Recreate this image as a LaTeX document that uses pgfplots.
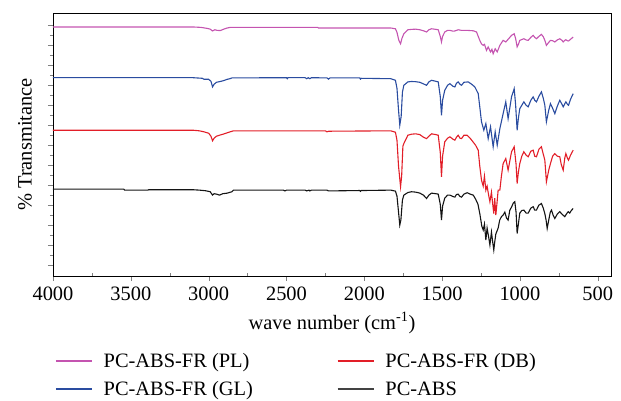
\documentclass[border=0pt]{standalone}
\usepackage{pgfplots}
\pgfplotsset{compat=1.18}
\usepackage{fontspec}
\setmainfont{Liberation Serif}

\definecolor{cpl}{RGB}{196,84,176}
\definecolor{cgl}{RGB}{42,76,160}
\definecolor{cdb}{RGB}{226,30,40}
\definecolor{cabs}{RGB}{20,20,20}

\begin{document}
\begin{tikzpicture}[font=\fontsize{20.5}{24}\selectfont]
\begin{axis}[
    at={(0,0)}, anchor=south west,
    scale only axis,
    width=558bp, height=263bp,
    x dir=reverse,
    xmin=415, xmax=4000,
    ymin=0, ymax=13.17,
    xtick={500,1000,...,4000},
    xticklabels={500,1000,1500,2000,2500,3000,3500,4000},
    xticklabel style={yshift=-2bp},
    minor x tick num=1,
    ytick={0.55,1.55,...,12.55},
    yticklabels={},
    minor y tick num=1,
    xtick pos=bottom, ytick pos=left,
    tick align=outside,
    major tick length=5bp,
    minor tick length=3bp,
    minor x tick style={yshift=3bp},
    xlabel={wave number (cm\textsuperscript{-1})},
    ylabel={\% Transmitance},
    xlabel style={at={(axis description cs:0.5,-0.179)}, anchor=center},
    ylabel style={at={(axis description cs:-0.05,0.5)}, anchor=center},
    axis line style={line width=0.8bp},
    every axis plot/.append style={line width=1.1bp},
    legend columns=2,
    legend cell align=left,
    legend image code/.code={\draw[#1] (0bp,0bp) -- (36bp,0bp);},
    legend style={draw=none, fill=none, at={(-0.002,-0.278)}, anchor=north west,
        row sep=8.5bp,
        /tikz/every odd column/.append style={column sep=9bp},
        /tikz/every even column/.append style={column sep=82bp}},
]
% PC-ABS-FR (PL)
\addplot[cpl, forget plot] coordinates {
(4000,12.47) (3100,12.47) (3050,12.45) (3010,12.40) (2990,12.36) (2975,12.27) (2960,12.33)
(2945,12.30) (2925,12.29) (2900,12.37) (2880,12.42) (2860,12.45) (2300,12.45) (2295,12.42)
(1830,12.42) (1800,12.38) (1790,12.2) (1778,11.8) (1767,11.63) (1758,11.9) (1746,12.13)
(1720,12.33) (1697,12.35) (1670,12.36) (1643,12.33) (1620,12.28) (1600,12.22) (1585,12.33)
(1568,12.38) (1540,12.35) (1525,12.33) (1512,12.0) (1504,11.72) (1497,12.0) (1483,12.22)
(1465,12.3) (1450,12.3) (1430,12.26) (1418,12.27) (1397,12.33) (1375,12.3) (1339,12.3)
(1300,12.28) (1279,12.22) (1268,12.0) (1258,11.8) (1247,11.62) (1236,11.55) (1228,11.6)
(1215,11.3) (1204,11.47) (1189,11.22) (1180,11.35) (1172,11.13) (1159,11.38) (1146,11.22)
(1129,11.55) (1108,11.8) (1091,11.72) (1076,11.85) (1054,12.05) (1037,12.13) (1028,11.9)
(1018,11.47) (1010,11.6) (1001,11.8) (975,11.88) (960,11.82) (947,11.8) (930,11.95)
(915,12.05) (905,11.95) (894,11.88) (878,12.0) (862,12.1) (850,11.98) (840,11.8)
(830,11.55) (815,11.7) (804,11.8) (790,11.78) (776,11.72) (760,11.82) (744,11.88)
(730,11.8) (722,11.72) (712,11.8) (705,11.83) (695,11.78) (688,11.77) (675,11.85) (658,11.97)
};
% PC-ABS-FR (GL)
\addplot[cgl, forget plot] coordinates {
(4000,9.93) (3100,9.93) (3040,9.90) (3030,9.85) (3000,9.85) (2985,9.75) (2975,9.47)
(2965,9.60) (2950,9.70) (2920,9.75) (2906,9.78) (2880,9.85) (2863,9.88) (2850,9.92)
(2500,9.93) (2495,9.88) (2490,9.93) (2380,9.93) (2370,9.88) (2360,9.93) (2350,9.88)
(2340,9.93) (2240,9.92) (2230,9.86) (2220,9.92) (2030,9.92) (2025,9.86) (2020,9.90)
(1830,9.88) (1800,9.80) (1790,9.4) (1780,8.3) (1772,7.55) (1763,8.0) (1755,9.2)
(1746,9.55) (1720,9.72) (1697,9.74) (1670,9.73) (1643,9.70) (1620,9.62) (1600,9.55)
(1585,9.72) (1568,9.80) (1540,9.75) (1525,9.72) (1512,9.0) (1504,8.05) (1497,8.8)
(1483,9.3) (1465,9.55) (1450,9.63) (1430,9.5) (1418,9.47) (1408,9.65) (1397,9.72)
(1385,9.6) (1375,9.55) (1360,9.7) (1332,9.72) (1310,9.6) (1290,9.47) (1268,9.13)
(1257,8.4) (1247,7.72) (1232,7.3) (1219,7.63) (1204,6.88) (1189,7.47) (1172,6.47)
(1159,7.22) (1146,6.55) (1129,7.38) (1108,8.13) (1091,8.72) (1076,7.88) (1054,8.97)
(1037,9.38) (1028,8.6) (1018,7.3) (1010,7.9) (1001,8.38) (975,8.72) (960,8.55)
(947,8.47) (930,8.8) (915,8.97) (905,8.8) (894,8.72) (878,9.0) (862,9.22) (850,8.9)
(840,8.55) (830,7.72) (815,8.3) (804,8.63) (790,8.4) (776,8.13) (760,8.5) (744,8.8)
(730,8.6) (722,8.47) (712,8.62) (705,8.72) (695,8.6) (688,8.55) (675,8.85) (658,9.13)
};
% PC-ABS-FR (DB)
\addplot[cdb, forget plot] coordinates {
(4000,7.3) (3100,7.3) (3060,7.27) (3030,7.22) (3000,7.15) (2985,7.0) (2975,6.77)
(2965,6.9) (2950,7.0) (2930,7.05) (2900,7.12) (2870,7.2) (2840,7.27) (2250,7.27)
(2240,7.22) (2228,7.25) (1830,7.27) (1800,7.2) (1790,6.8) (1780,5.5) (1767,4.47)
(1760,5.0) (1752,6.5) (1746,6.63) (1720,7.05) (1697,7.1) (1670,7.12) (1643,7.08)
(1620,6.95) (1600,6.88) (1585,7.0) (1568,7.12) (1540,7.08) (1525,7.05) (1512,6.2)
(1504,4.97) (1497,6.0) (1483,6.72) (1465,6.9) (1450,6.97) (1430,6.85) (1418,6.8)
(1408,6.95) (1397,7.05) (1385,6.9) (1375,6.88) (1360,7.05) (1339,7.05) (1320,6.9)
(1300,6.7) (1285,6.55) (1268,6.3) (1258,5.5) (1247,4.8) (1236,4.5) (1228,5.0)
(1219,4.3) (1211,4.5) (1200,4.0) (1193,3.72) (1183,4.2) (1175,3.6) (1168,3.13)
(1162,3.9) (1155,3.05) (1148,3.6) (1140,4.3) (1129,4.3) (1119,5.0) (1108,5.63)
(1091,5.88) (1076,5.3) (1054,6.22) (1037,6.47) (1025,5.6) (1018,4.63) (1010,5.2)
(1001,5.63) (988,6.0) (975,6.22) (960,6.05) (947,5.97) (930,6.25) (915,6.3) (905,6.0)
(894,5.97) (878,6.35) (862,6.47) (850,6.1) (840,5.8) (830,4.72) (815,5.3) (804,5.63)
(790,6.0) (776,6.13) (760,6.0) (744,5.97) (735,5.6) (722,5.3) (712,5.9) (705,6.13)
(695,5.9) (688,5.8) (675,6.05) (658,6.3)
};
% PC-ABS
\addplot[cabs, forget plot] coordinates {
(4000,4.35) (3545,4.35) (3540,4.30) (3390,4.30) (3385,4.32) (3100,4.32) (3060,4.30)
(3020,4.27) (2990,4.22) (2975,4.05) (2965,4.12) (2950,4.10) (2930,4.05) (2910,4.12)
(2880,4.15) (2850,4.22) (2840,4.30) (2520,4.30) (2510,4.26) (2500,4.30) (2380,4.30)
(2370,4.26) (2355,4.30) (2350,4.26) (2340,4.30) (2240,4.30) (2230,4.26) (2030,4.28)
(2025,4.24) (2020,4.28) (1830,4.30) (1800,4.25) (1790,4.0) (1780,3.2) (1772,2.55)
(1765,2.8) (1755,3.8) (1746,4.05) (1720,4.18) (1697,4.22) (1670,4.20) (1643,4.15)
(1620,4.05) (1600,3.88) (1585,4.05) (1568,4.15) (1540,4.12) (1525,4.10) (1512,3.6)
(1504,2.8) (1497,3.5) (1483,3.9) (1465,4.05) (1450,4.05) (1430,3.98) (1418,3.95)
(1408,4.08) (1397,4.1) (1385,3.98) (1375,3.95) (1360,4.1) (1339,4.17) (1320,4.1)
(1300,4.05) (1285,3.85) (1270,3.6) (1258,3.13) (1245,2.5) (1236,2.3) (1228,2.6)
(1219,1.8) (1211,2.4) (1200,1.9) (1193,1.55) (1183,2.2) (1175,1.7) (1168,1.3)
(1162,1.7) (1155,2.1) (1140,2.4) (1130,2.8) (1119,2.97) (1108,3.05) (1097,3.2)
(1086,2.9) (1076,2.8) (1065,3.3) (1054,3.45) (1043,3.65) (1033,3.72) (1025,3.2)
(1018,2.13) (1010,2.6) (1001,3.15) (988,3.28) (975,3.3) (960,3.15) (947,3.15)
(930,3.4) (915,3.47) (905,3.3) (894,3.3) (878,3.55) (862,3.63) (850,3.4) (840,3.12)
(832,2.8) (825,2.38) (815,2.8) (805,3.2) (797,3.3) (787,3.05) (776,2.88) (760,3.1)
(744,3.22) (730,3.1) (712,2.97) (700,3.12) (690,3.22) (680,3.15) (670,3.28) (658,3.38)
};
\addlegendimage{cpl, line width=1.6bp}
\addlegendentry{PC-ABS-FR (PL)}
\addlegendimage{cdb, line width=1.6bp}
\addlegendentry{PC-ABS-FR (DB)}
\addlegendimage{cgl, line width=1.6bp}
\addlegendentry{PC-ABS-FR (GL)}
\addlegendimage{cabs!80, line width=1.6bp}
\addlegendentry{PC-ABS}
\end{axis}
\pgfresetboundingbox
\path[use as bounding box] (-53bp,-125bp) rectangle (568bp,276bp);
\end{tikzpicture}
\end{document}
